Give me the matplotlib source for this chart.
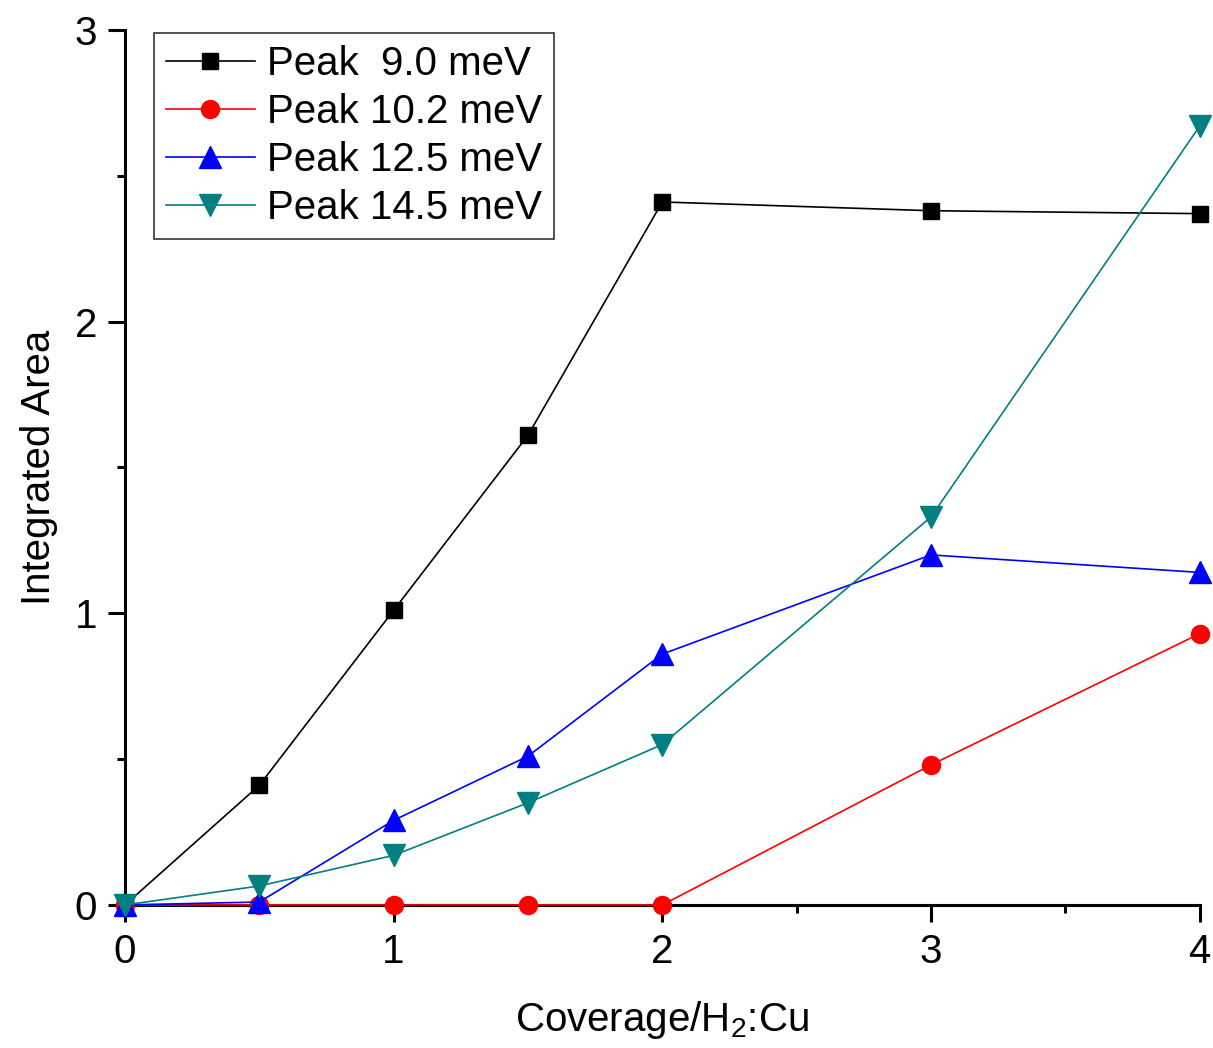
import numpy as np
import matplotlib
matplotlib.use("Agg")
import matplotlib.pyplot as plt
from matplotlib.ticker import MultipleLocator

plt.rcParams['font.family'] = ['Liberation Sans', 'DejaVu Sans']
plt.rcParams['mathtext.fontset'] = 'custom'
plt.rcParams['mathtext.rm'] = 'Liberation Sans'

# coverage values (H2:Cu)
coverage = [0, 0.5, 1, 1.5, 2, 3, 4]

# integrated area of each peak
peak_90 = [0, 0.41, 1.01, 1.61, 2.41, 2.38, 2.37]
peak_102 = [0, 0, 0, 0, 0, 0.48, 0.93]
peak_125 = [0, 0.01, 0.29, 0.51, 0.86, 1.20, 1.14]
peak_145 = [0, 0.065, 0.17, 0.35, 0.55, 1.33, 2.67]

labels = ["Peak  9.0 meV", "Peak 10.2 meV", "Peak 12.5 meV", "Peak 14.5 meV"]

fig = plt.figure(figsize=(12.13, 10.48), dpi=100)
ax = fig.add_axes([0.103, 0.1365, 0.886, 0.835])

# draw each series
ax.plot(coverage, peak_90, color="black", marker="s", markersize=11, lw=1.2,
        label=labels[0], clip_on=False, zorder=3)
ax.plot(coverage, peak_102, color="red", marker="o", markersize=13, lw=1.2,
        label=labels[1], clip_on=False, zorder=3)
ax.plot(coverage, peak_125, color="blue", marker="^", markersize=16.5, lw=1.2,
        label=labels[2], clip_on=False, zorder=3)
ax.plot(coverage, peak_145, color="#008080", marker="v", markersize=16.5, lw=1.2,
        label=labels[3], clip_on=False, zorder=3)

ax.set_xlim(0, 4)
ax.set_ylim(0, 3)
ax.xaxis.set_major_locator(MultipleLocator(1))
ax.xaxis.set_minor_locator(MultipleLocator(0.5))
ax.yaxis.set_major_locator(MultipleLocator(1))
ax.yaxis.set_minor_locator(MultipleLocator(0.5))

for side in ["top", "right"]:
    ax.spines[side].set_visible(False)
for side in ["left", "bottom"]:
    ax.spines[side].set_linewidth(2.2)

ax.tick_params(which="major", direction="out", length=12, width=2.2,
               labelsize=29, pad=8)
ax.tick_params(which="minor", direction="out", length=6, width=2.2)

ax.set_xlabel("Coverage/H$_\\mathregular{2}$:Cu", fontsize=29, labelpad=20)
ax.set_ylabel("Integrated Area", fontsize=29, labelpad=12)

leg = ax.legend(loc="upper left", bbox_to_anchor=(0.027, 0.9966), fontsize=29,
                frameon=True, fancybox=False, edgecolor="black",
                handlelength=2.2, handletextpad=0.3, labelspacing=0.25,
                borderpad=0.3, borderaxespad=0)
leg.get_frame().set_linewidth(1.2)

fig.savefig("out.png", dpi=100)
